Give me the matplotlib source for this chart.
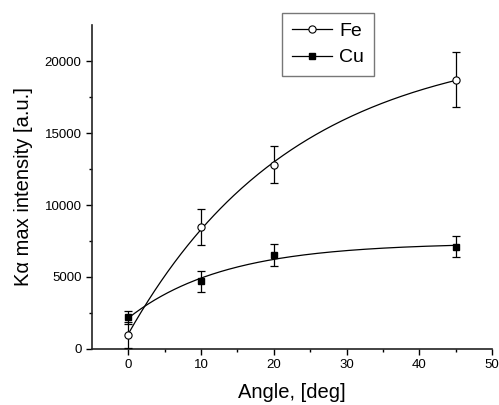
import numpy as np
import matplotlib.pyplot as plt

plt.rcParams['font.family'] = ['Liberation Sans', 'DejaVu Sans']

# data
angle = [0, 10, 20, 45]
fe_int = [1000, 8500, 12800, 18700]
fe_err = [900, 1250, 1300, 1900]
cu_int = [2200, 4700, 6500, 7100]
cu_err = [450, 720, 760, 740]


# exponential association fit, y = y0 + A*(1 - exp(-x/t))
def exp_fit(x, y):
    x = np.asarray(x, float)
    y = np.asarray(y, float)
    best = None
    for t in np.linspace(1, 200, 4000):
        m = np.column_stack([np.ones_like(x), 1 - np.exp(-x / t)])
        coef, res, _, _ = np.linalg.lstsq(m, y, rcond=None)
        err = np.sum((m @ coef - y) ** 2)
        if best is None or err < best[0]:
            best = (err, t, coef)
    _, t, coef = best
    xs = np.linspace(x.min(), x.max(), 200)
    return xs, coef[0] + coef[1] * (1 - np.exp(-xs / t))


fig = plt.figure(figsize=(4.99, 4.05), dpi=100)
ax = fig.add_axes([0.1844, 0.1383, 0.8016, 0.7999])

xs, ys = exp_fit(angle, fe_int)
ax.plot(xs, ys, color='black', lw=0.9, zorder=2)
xs, ys = exp_fit(angle, cu_int)
ax.plot(xs, ys, color='black', lw=0.9, zorder=2)

ax.errorbar(angle, fe_int, yerr=fe_err, fmt='none', ecolor='black', elinewidth=0.9,
            capsize=3, capthick=0.9, zorder=3)
ax.errorbar(angle, cu_int, yerr=cu_err, fmt='none', ecolor='black', elinewidth=0.9,
            capsize=3, capthick=0.9, zorder=3)
ax.plot(angle, fe_int, 'o', ms=5.2, mfc='white', mec='black', mew=0.8, zorder=4)
ax.plot(angle, cu_int, 's', ms=5, mfc='black', mec='black', zorder=4)

# legend handles
ax.plot([], [], '-o', color='black', lw=0.9, ms=5.2, mfc='white', mew=0.8, label='Fe')
ax.plot([], [], '-s', color='black', lw=0.9, ms=5, mfc='black', label='Cu')
leg = ax.legend(loc='upper left', bbox_to_anchor=(0.475, 1.038), fontsize=14, frameon=True,
                fancybox=False, edgecolor='#555555', handlelength=2.05, handletextpad=0.4,
                borderpad=0.5, labelspacing=0.45, borderaxespad=0)
leg.get_frame().set_linewidth(1.0)

ax.set_xlim(-5, 50)
ax.set_ylim(0, 22500)
ax.set_xticks([0, 10, 20, 30, 40, 50])
ax.set_xticks([5, 15, 25, 35, 45], minor=True)
ax.set_yticks([0, 5000, 10000, 15000, 20000])
ax.set_yticks([2500, 7500, 12500, 17500], minor=True)
ax.spines['top'].set_visible(False)
ax.spines['right'].set_visible(False)
for s in ['left', 'bottom']:
    ax.spines[s].set_linewidth(1.2)
    ax.spines[s].set_color('#222222')
ax.tick_params(which='major', direction='out', length=4.5, width=1.0, labelsize=9.5, pad=3)
ax.tick_params(which='minor', direction='out', length=2.5, width=1.0)

ax.set_xlabel('Angle, [deg]', fontsize=14.5, labelpad=8)
ax.set_ylabel('K\u03b1 max intensity [a.u.]', fontsize=14.5, labelpad=8)

fig.savefig('out.png', dpi=100)
